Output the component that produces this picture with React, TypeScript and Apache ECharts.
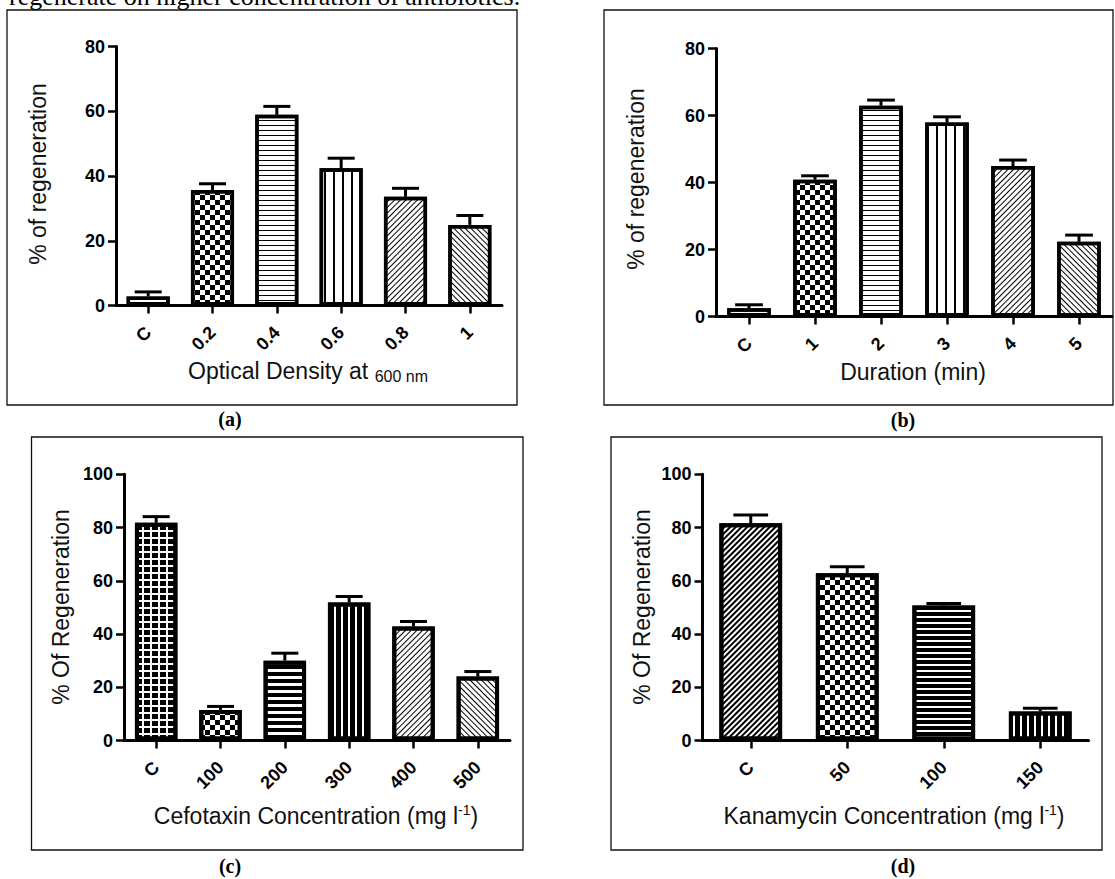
import React, { useEffect, useRef } from "react";
import * as echarts from "echarts";

// ---------- data ----------
const catsA = ["C", "0.2", "0.4", "0.6", "0.8", "1"];
const valsA = [2.8, 35.7, 58.9, 42.4, 33.6, 24.9];
const errA = [1.4, 1.9, 2.6, 3.1, 2.6, 2.9];

const catsB = ["C", "1", "2", "3", "4", "5"];
const valsB = [2.5, 40.8, 62.9, 57.9, 44.9, 22.3];
const errB = [1.0, 1.2, 1.7, 1.7, 1.8, 2.0];

const catsC = ["C", "100", "200", "300", "400", "500"];
const valsC = [81.8, 11.5, 30.0, 51.8, 42.8, 24.0];
const errC = [2.3, 1.3, 2.8, 2.3, 1.9, 1.9];

const catsD = ["C", "50", "100", "150"];
const valsD = [81.6, 62.8, 50.7, 10.9];
const errD = [3.1, 2.5, 0.8, 1.2];

const yTicksAB = [0, 20, 40, 60, 80];
const yTicksCD = [0, 20, 40, 60, 80, 100];

// ---------- patterns ----------
const K = "#000";
const W = "#fff";
const base = { symbol: "rect", symbolSize: 1, maxTileWidth: 256, maxTileHeight: 256 };
const P: Record<string, any> = {
  gridFine: { ...base, color: W, backgroundColor: K, dashArrayX: [5, 1.2], dashArrayY: [3.3, 1.2] },
  checker: { ...base, color: K, backgroundColor: W, dashArrayX: [[4.3, 4.3], [0, 4.3, 4.3, 0]], dashArrayY: [4.3, 0] },
  hThin: { ...base, color: K, backgroundColor: W, dashArrayX: [1, 0], dashArrayY: [1, 3.7] },
  vThin: { ...base, color: K, backgroundColor: W, dashArrayX: [1.1, 6.2], dashArrayY: [1, 0] },
  diagUp: { ...base, color: K, backgroundColor: W, dashArrayX: [1, 0], dashArrayY: [1, 2.2], rotation: -Math.PI / 4 },
  diagDown: { ...base, color: K, backgroundColor: W, dashArrayX: [1, 0], dashArrayY: [1, 2.2], rotation: Math.PI / 4 },
  gridBold: { ...base, color: K, backgroundColor: W, dashArrayX: [6, 1.3], dashArrayY: [4.6, 1.3] },
  checkerBig: { ...base, color: K, backgroundColor: W, dashArrayX: [[5, 5], [0, 5, 5, 0]], dashArrayY: [5, 0] },
  hBold: { ...base, color: K, backgroundColor: W, dashArrayX: [1, 0], dashArrayY: [3.8, 2.2] },
  vBold: { ...base, color: K, backgroundColor: W, dashArrayX: [5, 1.8], dashArrayY: [1, 0] },
  diagUpDense: { ...base, color: K, backgroundColor: W, dashArrayX: [1, 0], dashArrayY: [1.3, 1.7], rotation: -Math.PI / 4 },
  hBoldD: { ...base, color: K, backgroundColor: W, dashArrayX: [1, 0], dashArrayY: [4, 1.6] },
  vBoldD: { ...base, color: K, backgroundColor: W, dashArrayX: [4.5, 1.6], dashArrayY: [1, 0] },
};

const SANS = 'Arial, "Liberation Sans", sans-serif';
const SERIF = '"Times New Roman", "Liberation Serif", serif';

const panels = [
  { cats: catsA, vals: valsA, errs: errA, ticks: yTicksAB, grid: { left: 116, top: 46.5, width: 386, height: 259 }, barWidth: "67%", cap: 0.42, bw: 3.5,
    decals: [P.gridFine, P.checker, P.hThin, P.vThin, P.diagUp, P.diagDown] },
  { cats: catsB, vals: valsB, errs: errB, ticks: yTicksAB, grid: { left: 716, top: 48.5, width: 396, height: 268 }, barWidth: "66%", cap: 0.42, bw: 3.5,
    decals: [P.gridFine, P.checker, P.hThin, P.vThin, P.diagUp, P.diagDown] },
  { cats: catsC, vals: valsC, errs: errC, ticks: yTicksCD, grid: { left: 124, top: 474.3, width: 386, height: 266.2 }, barWidth: "66%", cap: 0.42, bw: 4,
    decals: [P.gridBold, P.checkerBig, P.hBold, P.vBold, P.diagUp, P.diagDown] },
  { cats: catsD, vals: valsD, errs: errD, ticks: yTicksCD, grid: { left: 702.5, top: 474.3, width: 386, height: 266.2 }, barWidth: "65%", cap: 0.36, bw: 4,
    decals: [P.diagUpDense, P.checkerBig, P.hBoldD, P.vBoldD] },
];

function makeErrRender(capRatio: number) {
  return (params: any, api: any) => {
    const i = api.value(0);
    const v = api.value(1);
    const e = api.value(2);
    const b = api.coord([i, v]);
    const t = api.coord([i, v + e]);
    const bw = api.size([1, 0])[0];
    const half = (bw * capRatio) / 2;
    return {
      type: "group",
      children: [
        { type: "line", shape: { x1: b[0], y1: b[1], x2: t[0], y2: t[1] }, style: { stroke: K, lineWidth: 3 } },
        { type: "line", shape: { x1: t[0] - half, y1: t[1], x2: t[0] + half, y2: t[1] }, style: { stroke: K, lineWidth: 3 } },
      ],
    };
  };
}

function txt(x: number, y: number, text: string, extra: any = {}) {
  return {
    type: "text",
    x,
    y,
    silent: true,
    style: { text, fill: "#111", font: `23px ${SANS}`, align: "center", verticalAlign: "middle", textAlign: "center", textVerticalAlign: "middle", ...extra },
  };
}

const richMain = { fontSize: 23, fontFamily: SANS, fill: "#111", lineHeight: 27 };

export default function App() {
  const ref = useRef<HTMLDivElement>(null);
  useEffect(() => {
    if (!ref.current) return;
    const chart = echarts.init(ref.current, undefined, { renderer: "svg" });

    const series: any[] = [];
    panels.forEach((p, gi) => {
      series.push({
        type: "custom",
        xAxisIndex: gi,
        yAxisIndex: gi,
        z: 1,
        encode: { x: 0, y: [1, 2] },
        data: p.vals.map((v, j) => [j, v, p.errs[j]]),
        renderItem: makeErrRender(p.cap),
      });
      series.push({
        type: "bar",
        xAxisIndex: gi,
        yAxisIndex: gi,
        z: 3,
        barWidth: p.barWidth,
        data: p.vals.map((v, j) => ({
          value: v,
          itemStyle: { color: W, borderColor: K, borderWidth: p.bw, decal: p.decals[j] },
        })),
      });
    });

    const graphic: any[] = [
      // boxes
      { type: "rect", shape: { x: 7, y: 10, width: 510, height: 395 }, style: { fill: "none", stroke: "#111", lineWidth: 1.3 } },
      { type: "rect", shape: { x: 604, y: 10, width: 509, height: 395 }, style: { fill: "none", stroke: "#111", lineWidth: 1.3 } },
      { type: "rect", shape: { x: 31.5, y: 437, width: 491.5, height: 413 }, style: { fill: "none", stroke: "#111", lineWidth: 1.3 } },
      { type: "rect", shape: { x: 611, y: 437, width: 491, height: 413 }, style: { fill: "none", stroke: "#111", lineWidth: 1.3 } },
      // top running text (cut by page edge, as in the source page)
      { type: "text", x: 9, y: 9, silent: true, style: { text: "regenerate on higher concentration of antibiotics.", fill: "#000", font: `26px ${SERIF}`, align: "left", verticalAlign: "bottom", textAlign: "left", textVerticalAlign: "bottom" } },
      // y-axis names
      { ...txt(37.5, 174, "% of regeneration"), rotation: Math.PI / 2 },
      { ...txt(636, 179, "% of regeneration"), rotation: Math.PI / 2 },
      { ...txt(61, 607, "% Of Regeneration"), rotation: Math.PI / 2 },
      { ...txt(642, 607, "% Of Regeneration"), rotation: Math.PI / 2 },
      // x-axis names
      txt(308, 371, "{m|Optical Density at }{s|600 nm}", {
        rich: { m: richMain, s: { fontSize: 16, fontFamily: SANS, fill: "#111", verticalAlign: "bottom", lineHeight: 16 } },
      }),
      txt(913, 372, "Duration (min)"),
      txt(316, 816, "{m|Cefotaxin Concentration (mg l}{p|-1}{m|)}", {
        rich: { m: richMain, p: { fontSize: 14, fontFamily: SANS, fill: "#111", verticalAlign: "top", lineHeight: 14 } },
      }),
      txt(894, 816, "{m|Kanamycin Concentration (mg l}{p|-1}{m|)}", {
        rich: { m: richMain, p: { fontSize: 14, fontFamily: SANS, fill: "#111", verticalAlign: "top", lineHeight: 14 } },
      }),
      // captions
      txt(230, 419, "(a)", { font: `bold 20px ${SERIF}`, fill: "#000" }),
      txt(903, 420, "(b)", { font: `bold 20px ${SERIF}`, fill: "#000" }),
      txt(230, 866, "(c)", { font: `bold 20px ${SERIF}`, fill: "#000" }),
      txt(903, 866, "(d)", { font: `bold 20px ${SERIF}`, fill: "#000" }),
    ];

    const option: any = {
      animation: false,
      backgroundColor: "#fff",
      grid: panels.map((p) => ({ ...p.grid, containLabel: false, outerBoundsMode: "none" })),
      xAxis: panels.map((p, gi) => ({
        type: "category",
        gridIndex: gi,
        data: p.cats,
        axisLine: { show: true, lineStyle: { color: K, width: 3 } },
        axisTick: { show: true, alignWithLabel: true, length: 8, lineStyle: { color: K, width: 2.5 } },
        axisLabel: { interval: 0, rotate: 45, fontSize: 18, fontWeight: "bold", color: K, fontFamily: SANS, margin: 24 },
        splitLine: { show: false },
      })),
      yAxis: panels.map((p, gi) => ({
        type: "value",
        gridIndex: gi,
        min: p.ticks[0],
        max: p.ticks[p.ticks.length - 1],
        interval: p.ticks[1] - p.ticks[0],
        axisLine: { show: true, lineStyle: { color: K, width: 3 } },
        axisTick: { show: true, length: 8, lineStyle: { color: K, width: 2.5 } },
        axisLabel: { fontSize: 18, fontWeight: "bold", color: K, fontFamily: SANS, margin: 11 },
        splitLine: { show: false },
      })),
      series,
      graphic,
    };
    chart.setOption(option);
    return () => chart.dispose();
  }, []);

  return <div ref={ref} style={{ position: "absolute", left: 0, top: 0, width: 1115, height: 879 }} />;
}
